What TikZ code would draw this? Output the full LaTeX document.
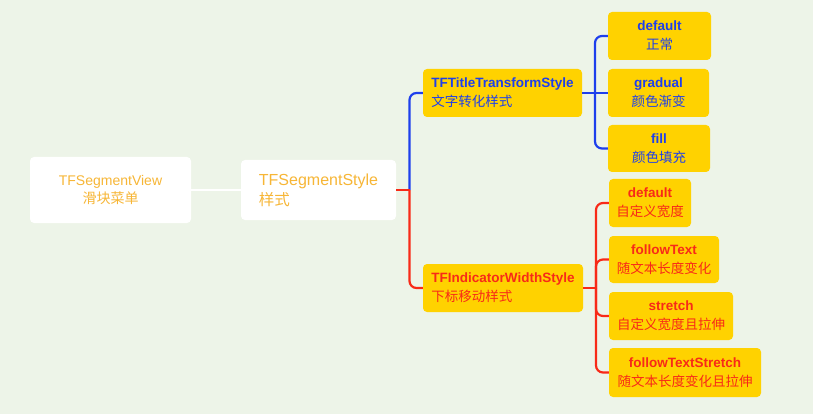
\documentclass[tikz,border=0pt]{standalone}
\usepackage{fontspec}
\setmainfont{Liberation Sans}
\newfontfamily\cjk{Noto Sans CJK SC}
\definecolor{bgc}{HTML}{EDF4E8}
\definecolor{ybox}{HTML}{FFD200}
\definecolor{bluec}{HTML}{1E3FEC}
\definecolor{redc}{HTML}{F82A18}
\definecolor{orangec}{HTML}{F7B636}
\begin{document}
\begin{tikzpicture}[x=1pt,y=-1pt,
  wbox/.style={fill=white,rounded corners=4pt,inner sep=0pt,text=orangec,align=center},
  yb/.style={fill=ybox,rounded corners=4pt,inner sep=0pt,align=center,minimum height=48pt},
  ypar/.style={yb,align=left},
  bl/.style={yb,text=bluec},
  rd/.style={yb,text=redc},
  bline/.style={draw=bluec,line width=2.2pt},
  rline/.style={draw=redc,line width=2.2pt},
  yfont/.style={font=\fontsize{13.5}{19}\selectfont}
]
\useasboundingbox[fill=bgc] (0,0) rectangle (813,414);
% level 0/1
\node[wbox,minimum width=161pt,minimum height=66pt,font=\fontsize{14}{18}\selectfont] (sv) at (110.5,190) {TFSegmentView\\{\cjk 滑块菜单}};
\node[wbox,align=left,minimum width=155pt,minimum height=60pt,font=\fontsize{16}{20}\selectfont] (ss) at (318.5,190) {TFSegmentStyle\\{\cjk\fontsize{15.5}{20}\selectfont 样式}};
% level 2
\node[ypar,text=bluec,yfont,minimum width=159pt] (tt) at (502.5,93) {\textbf{TFTitleTransformStyle}\\{\cjk 文字转化样式}};
\node[ypar,text=redc,yfont,minimum width=160pt] (iw) at (503,288) {\textbf{TFIndicatorWidthStyle}\\{\cjk 下标移动样式}};
% level 3 blue
\node[bl,yfont,minimum width=103pt] (td) at (659.5,36) {\textbf{default}\\{\cjk 正常}};
\node[bl,yfont,minimum width=101pt] (tg) at (658.5,93) {\textbf{gradual}\\{\cjk 颜色渐变}};
\node[bl,yfont,minimum width=102pt,minimum height=47pt] (tf) at (659,148.5) {\textbf{fill}\\{\cjk 颜色填充}};
% level 3 red
\node[rd,yfont,minimum width=82pt] (id) at (650,203) {\textbf{default}\\{\cjk 自定义宽度}};
\node[rd,yfont,minimum width=110pt,minimum height=47pt] (ift) at (664,259.5) {\textbf{followText}\\{\cjk 随文本长度变化}};
\node[rd,yfont,minimum width=124pt] (ist) at (671,316) {\textbf{stretch}\\{\cjk 自定义宽度且拉伸}};
\node[rd,yfont,minimum width=152pt,minimum height=49pt] (ifs) at (685,372.5) {\textbf{followTextStretch}\\{\cjk 随文本长度变化且拉伸}};
% connectors
\draw[white,line width=2.5pt] (sv.east) -- (ss.west);
\coordinate (j1) at (409.5,190);
\coordinate (j2) at (595,93);
\coordinate (j3) at (596,288);
\draw[bline,rounded corners=7pt] (j1) |- (tt.west);
\draw[rline,rounded corners=7pt] (j1) |- (iw.west);
\draw[rline] (ss.east) -- (j1);
\draw[bline] (tt.east) -- (j2);
\draw[bline,rounded corners=7pt] (j2) |- (td.west);
\draw[bline] (j2) -- (tg.west);
\draw[bline,rounded corners=7pt] (j2) |- (tf.west);
\draw[rline] (iw.east) -- (j3);
\draw[rline,rounded corners=7pt] (j3) |- (id.west);
\draw[rline,rounded corners=7pt] (j3) |- (ift.west);
\draw[rline,rounded corners=7pt] (j3) |- (ist.west);
\draw[rline,rounded corners=7pt] (j3) |- (ifs.west);
\end{tikzpicture}
\end{document}
